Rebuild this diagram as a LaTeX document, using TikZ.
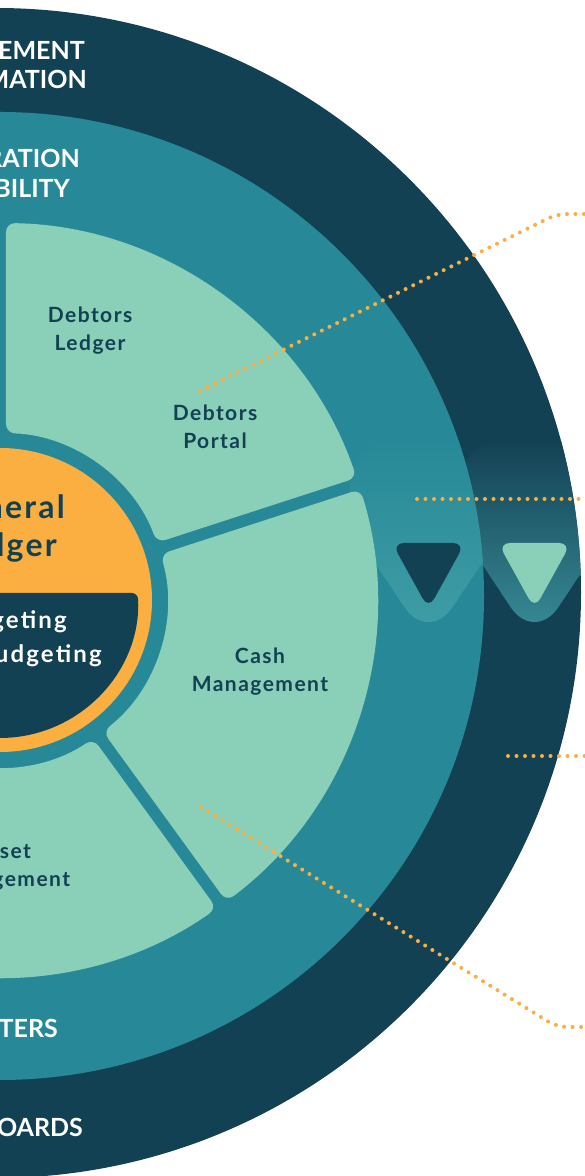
\documentclass[tikz,border=0pt]{standalone}
\usepackage{fontspec}
\setmainfont{Lato}
\newfontfamily\labelfont{Lato}[LetterSpace=7]
\newfontfamily\panelfont{Lato}[LetterSpace=9]
\definecolor{navy}{RGB}{19,65,84}
\definecolor{ringteal}{RGB}{39,137,151}
\definecolor{mint}{RGB}{138,207,184}
\definecolor{amber}{RGB}{251,175,64}
\definecolor{bandteal}{RGB}{64,158,166}
\definecolor{banddark}{RGB}{58,143,153}

\begin{document}
\begin{tikzpicture}[x=1pt, y=1pt,
    seglabel/.style={text=navy, align=center, font=\labelfont\bfseries\fontsize{21}{28}\selectfont},
    ringlabel/.style={text=white, anchor=base east, inner sep=0pt, font=\bfseries\fontsize{25}{30}\selectfont},
    corelabel/.style={anchor=base east, inner sep=0pt, font=\labelfont\bfseries\fontsize{32}{32}\selectfont},
    panellabel/.style={anchor=base east, inner sep=0pt, text=white, font=\panelfont\bfseries\fontsize{24}{24}\selectfont},
    dots/.style={draw=amber, line width=4pt, line cap=round, dash pattern=on 0pt off 8.5pt}]
    \useasboundingbox (0,0) rectangle (584,1176);

    \fill[navy] (-4,583) circle[radius=585];
    \begin{scope}
        \clip (-4,583) circle[radius=585];
        \shade[top color=navy, bottom color=banddark, rounded corners=43pt] (460,736) -- (460,645) -- (534.5,533) -- (609,645) -- (609,736) -- cycle;
    \end{scope}
    \fill[ringteal] (0,580) circle[radius=484];
    \begin{scope}
        \clip (0,580) circle[radius=484];
        \shade[top color=ringteal, bottom color=bandteal, rounded corners=43pt] (350,736) -- (350,650) -- (428.5,533) -- (507,650) -- (507,736) -- cycle;
    \end{scope}

    \begin{scope}[shift={(0,576)}]
        \foreach \a in {-126,-54,18,90,162} {
            \fill[mint, rounded corners=9pt] (\a+0.91:377) arc[start angle=\a+0.91, end angle=\a+71.09, radius=377] -- (\a+69.94:167) arc[start angle=\a+69.94, end angle=\a+2.06, radius=167] -- cycle;
        }
        \fill[amber] (0,0) circle[radius=152];
        \fill[navy, rounded corners=6pt] (-137.8,7) -- (137.8,7) arc[start angle=2.9, end angle=-182.9, radius=138] -- cycle;
    \end{scope}

    \fill[navy, rounded corners=12pt] (392,633) -- (465,633) -- (428.5,567) -- cycle;
    \fill[mint, rounded corners=12pt] (498,633) -- (571,633) -- (534.5,567) -- cycle;

    \node[ringlabel] (mgmt) at (85,1116) {MANAGEMENT};
    \node[ringlabel] (auto) at (87,1087) {AUTOMATION};
    \node[ringlabel] (integ) at (80,1008) {INTEGRATION};
    \node[ringlabel] (capab) at (70,978) {CAPABILITY};
    \node[ringlabel] (writers) at (58,138) {WRITERS};
    \node[ringlabel] (dash) at (83,39) {DASHBOARDS};

    \node[seglabel] (ledger) at (90,845) {Debtors\\Ledger};
    \node[seglabel] (portal) at (215,749) {Debtors\\Portal};
    \node[seglabel] (cash) at (260,504) {Cash\\Management};
    \node[seglabel] (asset) at (2,309) {Asset\\Management};

    \node[corelabel, text=navy] (gen) at (65,657) {General};
    \node[corelabel, text=navy] (led) at (57,619) {Ledger};
    \node[panellabel] (bud) at (67,547) {Budgeting};
    \node[panellabel] (pbud) at (102,513) {Project Budgeting};

    \coordinate (d1s) at (200,785);
    \coordinate (d1b) at (557,962);
    \coordinate (d1e) at (592,962);
    \coordinate (d2s) at (417,677);
    \coordinate (d2e) at (592,677);
    \coordinate (d3s) at (508,420);
    \coordinate (d3e) at (592,420);
    \coordinate (d4s) at (201,369);
    \coordinate (d4b) at (557,149);
    \coordinate (d4e) at (592,149);

    \draw[dots, rounded corners=10pt] (d1s) -- (d1b) -- (d1e);
    \draw[dots] (d2s) -- (d2e);
    \draw[dots] (d3s) -- (d3e);
    \draw[dots, rounded corners=10pt] (d4s) -- (d4b) -- (d4e);
\end{tikzpicture}
\end{document}
